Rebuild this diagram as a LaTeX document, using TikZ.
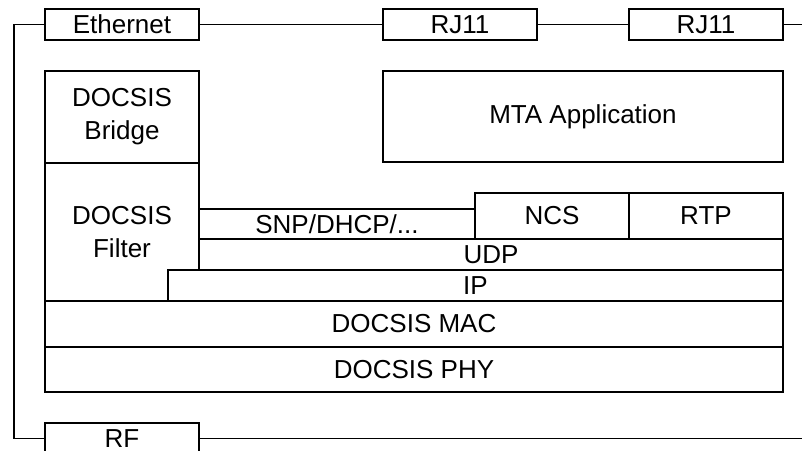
\documentclass[tikz,border=0pt]{standalone}
\usepackage{fontspec}
\setmainfont{Liberation Sans}
\begin{document}
\begin{tikzpicture}[x=1pt,y=-1pt,
  box/.style={draw, line width=1.2pt, rectangle, inner sep=0pt, align=center,
    font=\fontsize{26}{33}\selectfont},
  wire/.style={line width=1.2pt}]
\clip (0,0) rectangle (802,450);
\fill[white] (0,0) rectangle (802,450);
% ports
\node[box, minimum width=154pt, minimum height=31pt] (eth) at (122,24.5) {Ethernet};
\node[box, minimum width=154pt, minimum height=31pt] (rja) at (460,24.5) {RJ11};
\node[box, minimum width=154pt, minimum height=31pt] (rjb) at (706,24.5) {RJ11};
\node[box, minimum width=154pt, minimum height=31pt] (rf) at (122,438.5) {RF};
\coordinate (tl) at (14,24.5);
\coordinate (bl) at (14,438.5);
\coordinate (tr) at (802,24.5);
\coordinate (br) at (802,438.5);
\draw[wire] (eth.west) -- (tl) -- (bl) -- (rf.west);
\draw[wire] (eth.east) -- (rja.west);
\draw[wire] (rja.east) -- (rjb.west);
\draw[wire] (rjb.east) -- (tr);
\draw[wire] (rf.east) -- (br);
% stack
\node[box, minimum width=154pt, minimum height=92pt] (bridge) at (122,117) {DOCSIS\\Bridge};
\node[box, minimum width=154pt, minimum height=138pt] (filter) at (122,232) {DOCSIS\\Filter};
\node[box, minimum width=400pt, minimum height=91pt] (mta) at (583,116.5) {MTA Application};
\node[box, minimum width=276pt, minimum height=30pt] (snp) at (337,224) {SNP/DHCP/...};
\node[box, minimum width=154pt, minimum height=46pt] (ncs) at (552,216) {NCS};
\node[box, minimum width=154pt, minimum height=46pt] (rtp) at (706,216) {RTP};
\node[box, minimum width=584pt, minimum height=31pt] (udp) at (491,254.5) {UDP};
\node[box, fill=white, minimum width=615pt, minimum height=31pt] (ip) at (475.5,285.5) {IP};
\node[box, minimum width=738pt, minimum height=46pt] (mac) at (414,324) {DOCSIS MAC};
\node[box, minimum width=738pt, minimum height=45pt] (phy) at (414,369.5) {DOCSIS PHY};
\end{tikzpicture}
\end{document}
